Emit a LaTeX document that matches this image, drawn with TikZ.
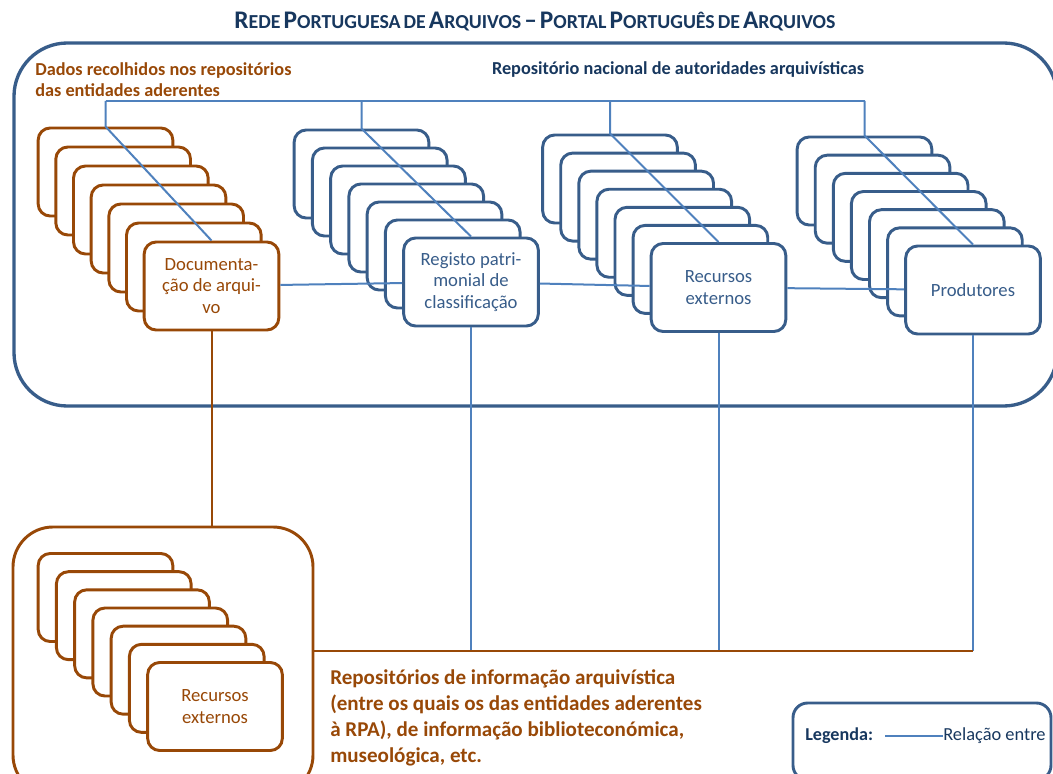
\documentclass[tikz,border=0pt]{standalone}
\usepackage{fontspec}
\setmainfont{Carlito}
\definecolor{brn}{HTML}{984807}
\definecolor{cardblue}{HTML}{385D8A}
\definecolor{lineblue}{HTML}{4F81BD}
\definecolor{navy}{HTML}{17375E}
\newcommand\SCw[2]{{\fontsize{19}{22}\selectfont #1}{\fontsize{14.9}{17}\selectfont #2}}
\begin{document}
\begin{tikzpicture}[x=0.75pt,y=-0.75pt,
  card/.style={draw=#1, fill=white, line width=2.2pt, rounded corners=9pt,
    minimum width=101pt, minimum height=66pt, inner sep=2pt, align=center,
    font=\fontsize{14}{16.3}\selectfont, text=#1},
  conn/.style={draw=lineblue, line width=1.5pt},
  brconn/.style={draw=brn, line width=1.5pt},
  frame/.style={draw=cardblue, line width=2.5pt, rounded corners=#1},
  lbl/.style={inner sep=0pt, align=left},
]
\useasboundingbox (0,0) rectangle (1053,774);

% title
\node[font=\bfseries, text=navy] (title) at (535,22)
  {\SCw{R}{EDE} \SCw{P}{ORTUGUESA} \SCw{}{DE} \SCw{A}{RQUIVOS} \SCw{–}{} \SCw{P}{ORTAL} \SCw{P}{ORTUGUÊS} \SCw{}{DE} \SCw{A}{RQUIVOS}};

% outer frame
\draw[frame=40pt] (14,43) rectangle (1057,406);

% header texts
\node[lbl, anchor=west, font=\bfseries\fontsize{13.7}{15.75}\selectfont, text=brn] (dados) at (35,80)
  {Dados recolhidos nos repositórios\\das entidades aderentes};
\node[lbl, font=\bfseries\fontsize{13.7}{15}\selectfont, text=navy] (repnac) at (678,70)
  {Repositório nacional de autoridades arquivísticas};

% stack 1 (brown)
\foreach \i in {0,...,5} \node[card=brn] (a\i) at ({105.5+\i*17.67},{172+\i*19}) {};
\node[card=brn] (af) at (211.5,286) {Documenta-\\ção de arqui-\\vo};

% stack 2
\foreach \i in {0,...,5} \node[card=cardblue] (b\i) at ({361.5+\i*18.25},{174+\i*18}) {};
\node[card=cardblue] (bf) at (471,282) {Registo patri-\\monial de\\classificação};

% stack 3
\foreach \i in {0,...,5} \node[card=cardblue] (c\i) at ({610+\i*18.08},{179+\i*18.08}) {};
\node[card=cardblue] (cf) at (718.5,287.5) {Recursos\\externos};

% stack 4
\foreach \i in {0,...,5} \node[card=cardblue] (d\i) at ({864.5+\i*18.08},{181+\i*18.17}) {};
\node[card=cardblue] (df) at (973,290) {Produtores};

% lower box and stack
\node[draw=brn, line width=2.2pt, rounded corners=30pt, minimum width=225pt, minimum height=201pt] (lowbox) at (163,661) {};
\foreach \i in {0,...,5} \node[card=brn] (e\i) at ({105.5+\i*18.25},{597.5+\i*18.17}) {};
\node[card=brn] (ef) at (215,706.5) {Recursos\\externos};

% top bar connectors
\coordinate (t1) at (a0.north |- 0,101);
\coordinate (t2) at (b0.north |- 0,101);
\coordinate (t3) at (c0.north |- 0,101);
\coordinate (t4) at (d0.north |- 0,101);
\draw[conn] (t1) -- (t4);
\draw[conn] (t1) -- (a0.north) -- (af.north);
\draw[conn] (t2) -- (b0.north) -- (bf.north);
\draw[conn] (t3) -- (c0.north) -- (cf.north);
\draw[conn] (t4) -- (d0.north) -- (df.north);

% horizontal between fronts
\draw[conn] (af) -- (bf);
\draw[conn] (bf) -- (cf);
\draw[conn] (cf) -- (df);

% lower connections
\coordinate (hr) at (df.south |- 0,651);
\draw[conn] (bf.south) -- (bf.south |- hr);
\draw[conn] (cf.south) -- (cf.south |- hr);
\draw[conn] (df.south) -- (hr);
\draw[brconn] (lowbox.east |- hr) -- (hr);
\draw[brconn] (af.south) -- (af.south |- lowbox.north);

% lower text
\node[lbl, anchor=west, font=\bfseries\fontsize{15.8}{19.5}\selectfont, text=brn] (repinfo) at (330,718)
  {Repositórios de informação arquivística\\(entre os quais os das entidades aderentes\\à RPA), de informação biblioteconómica,\\museológica, etc.};

% legend
\draw[draw=cardblue, line width=2.2pt, rounded corners=11pt] (793,703) rectangle (1051,780);
\node[lbl, anchor=west, font=\bfseries\fontsize{13.6}{15}\selectfont, text=navy] (legk) at (805,736) {Legenda:};
\node[lbl, anchor=west, font=\fontsize{13.8}{15}\selectfont, text=navy] (legt) at (943,736) {Relação entre};
\coordinate (leg1) at (885,736);
\draw[conn] (leg1) -- (legt.west);
\end{tikzpicture}
\end{document}
